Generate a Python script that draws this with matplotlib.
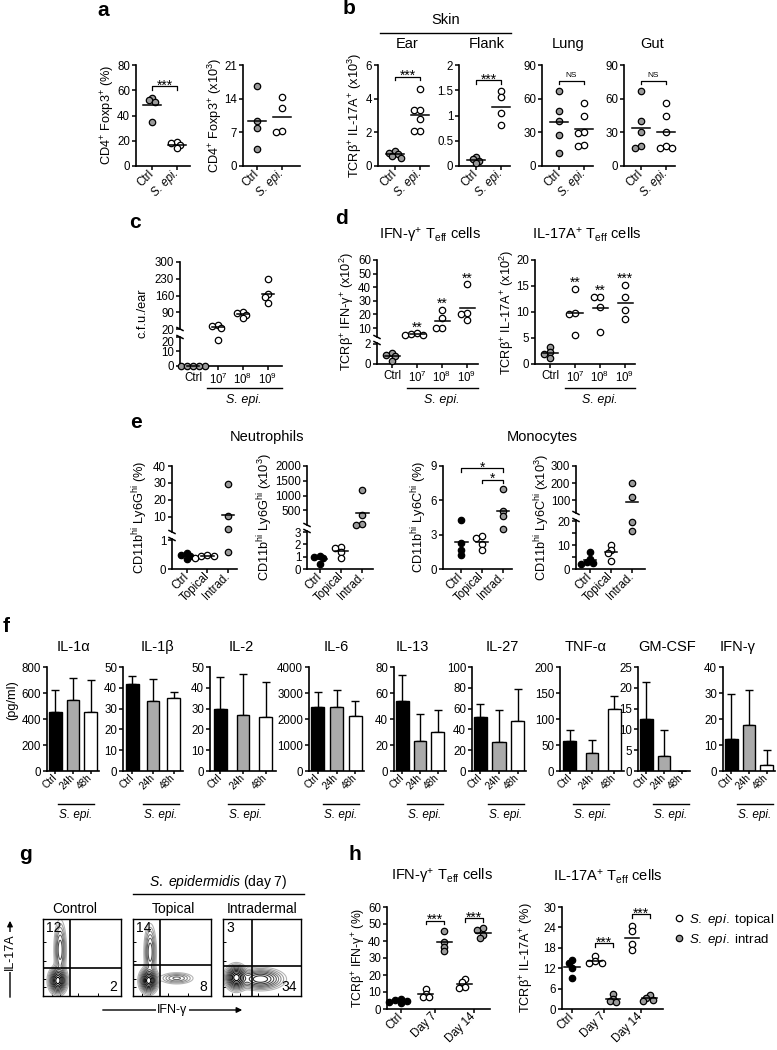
import numpy as np
import matplotlib
matplotlib.use("Agg")
import matplotlib.pyplot as plt
from matplotlib.lines import Line2D
from matplotlib.patches import FancyArrowPatch

plt.rcParams['font.family'] = ['Liberation Sans', 'DejaVu Sans']
plt.rcParams['mathtext.fontset'] = 'custom'
plt.rcParams['mathtext.rm'] = 'Liberation Sans'
plt.rcParams['mathtext.it'] = 'Liberation Sans:italic'
plt.rcParams['mathtext.bf'] = 'Liberation Sans:bold'
plt.rcParams['axes.linewidth'] = 1.2

GREY = '#9b9b9b'
BARGREY = '#aaaaaa'
TICK_FS = 8.3
TITLE_FS = 10.5
YLAB_FS = 9.2

# ---------------- data ----------------
# a
a1_ctrl = [54, 52, 51, 35]
a1_sepi = [19, 18, 17, 14]
a2_ctrl = [16.6, 9.4, 7.9, 3.5]
a2_sepi = [14.3, 12.1, 7.2, 7.0]
# b
b_sites = ['Ear', 'Flank', 'Lung', 'Gut']
b_ctrl = [[0.9, 0.8, 0.7, 0.6, 0.5],
          [0.18, 0.13, 0.1, 0.05],
          [67, 49, 40, 28, 12],
          [67, 40, 30, 18, 16]]
b_sepi = [[4.6, 3.3, 3.3, 2.8, 2.1, 2.1],
          [1.49, 1.37, 1.04, 0.81],
          [56, 45, 30, 29, 19, 18],
          [56, 45, 30, 18, 16, 16]]
b_sig = ['***', '***', 'NS', 'NS']
b_sig_y = [5.3, 1.7, 76, 76]
# c
dose_labels = ['Ctrl', '10$^{7}$', '10$^{8}$', '10$^{9}$']
c_cfu = [[0, 0, 0, 0, 0],
         [38, 31, 24, 18],
         [93, 86, 79, 65],
         [227, 165, 152, 128]]
# d
d1_ifng = [[1.1, 0.9, 0.8, 0.3],
           [6.0, 5.5, 5.0, 5.0],
           [23, 17, 10, 10],
           [42, 21, 20, 16]]
d1_sig = ['', '**', '**', '**']
d2_il17 = [[3.2, 2.4, 2.0, 1.2],
           [14.4, 9.9, 9.7, 5.6],
           [12.9, 12.8, 11.0, 6.1],
           [15.2, 12.9, 10.4, 8.6]]
d2_sig = ['', '**', '**', '***']
# e
e_labels = ['Ctrl', 'Topical', 'Intrad.']
e1_neut_pct = [[0.55, 0.5, 0.45, 0.35], [0.5, 0.47, 0.45, 0.4], [29.5, 10.5, 2.5, 0.6]]
e2_neut_num = [[1.1, 1.0, 0.9, 0.4], [1.8, 1.75, 1.35, 0.9], [1180, 330, 40, 10]]
e3_mono_pct = [[4.3, 2.3, 1.7, 1.25], [2.85, 2.7, 2.2, 1.7], [7.0, 5.1, 4.6, 3.5]]
e4_mono_num = [[7.2, 4.0, 3.0, 2.5, 2.2], [10.2, 8.0, 6.5, 3.2], [200, 119, 19.7, 15.8]]
# f
f_cytokines = ['IL-1α', 'IL-1β', 'IL-2', 'IL-6', 'IL-13', 'IL-27', 'TNF-α', 'GM-CSF', 'IFN-γ']
f_ymax = [800, 50, 50, 4000, 80, 100, 200, 25, 40]
f_ystep = [200, 10, 10, 1000, 20, 20, 50, 5, 10]
f_ctrl = [455, 42, 30, 2480, 54, 52, 58, 12.6, 12.3]
f_24h = [550, 33.5, 27, 2450, 23, 28, 35, 3.5, 17.6]
f_48h = [455, 35, 26, 2120, 30, 48, 119, 0, 2.5]
f_ctrl_err = [165, 3.5, 15, 540, 20, 12, 20, 8.9, 17.4]
f_24h_err = [165, 10.5, 19.5, 680, 21, 31, 25, 6.3, 13.7]
f_48h_err = [245, 3, 17, 560, 17, 31, 25, 0, 5.5]
f_groups = ['Ctrl', '24h', '48h']
# g
g_titles = ['Control', 'Topical', 'Intradermal']
g_il17 = [12, 14, 3]
g_ifng = [2, 8, 34]
g_blobs = [[(0.19, 0.20, 0.05, 0.075, 1.0), (0.22, 0.60, 0.035, 0.17, 0.3)],
           [(0.20, 0.20, 0.05, 0.07, 1.0), (0.22, 0.57, 0.035, 0.16, 0.3), (0.56, 0.23, 0.10, 0.035, 0.18)],
           [(0.17, 0.24, 0.06, 0.07, 1.0), (0.48, 0.22, 0.13, 0.06, 0.55)]]
g_vx = [0.34, 0.35, 0.37]
g_hy = [0.36, 0.40, 0.39]
# h
h_labels = ['Ctrl', 'Day 7', 'Day 14']
h1_ctrl = [5.8, 5.2, 4.5, 4.0, 3.5]
h1_topical = [[12, 9, 7, 7], [17.6, 16, 13, 12.2]]
h1_intrad = [[45.9, 39.6, 36.7, 34.3], [47.5, 46.5, 43.5, 41.5]]
h2_ctrl = [14.5, 13.5, 12, 9]
h2_topical = [[15.5, 14, 13.5, 13.5], [24.5, 22.9, 19.2, 17.4]]
h2_intrad = [[4.5, 3, 2.3, 2], [4, 3.3, 2.7, 2.5]]
h1_sig_y = [52, 53.5]
h2_sig_y = [19.3, 27.8]

# ---------------- helpers ----------------
W, H = 777, 1050
fig = plt.figure(figsize=(W / 100, H / 100), dpi=100)


def axpx(x0, y0, x1, y1, bottom=True):
    ax = fig.add_axes([x0 / W, 1 - y1 / H, (x1 - x0) / W, (y1 - y0) / H])
    ax.patch.set_visible(False)
    ax.spines['top'].set_visible(False)
    ax.spines['right'].set_visible(False)
    ax.tick_params(direction='out', length=3, width=1.1, labelsize=TICK_FS, pad=1.2)
    if not bottom:
        ax.spines['bottom'].set_visible(False)
        ax.tick_params(axis='x', bottom=False, labelbottom=False)
    return ax


def ftext(x, y, s, **kw):
    kw.setdefault('ha', 'center')
    kw.setdefault('va', 'center')
    fig.text(x / W, 1 - y / H, s, **kw)


def fline(xs, ys, lw=1.0, **kw):
    fig.add_artist(Line2D([x / W for x in xs], [1 - y / H for y in ys], color='k',
                          lw=lw, transform=fig.transFigure, **kw))


def brk(x, y_hi, y_lo):
    # petites marques de coupure de l'axe
    fline([x - 3, x + 3], [y_hi - 1.5, y_hi + 1.5], lw=1.1)
    fline([x - 3, x + 3], [y_lo - 1.5, y_lo + 1.5], lw=1.1)


def place(ax, xc, vals, r=3.1):
    placed, out = [], [0.0] * len(vals)
    for i in np.argsort(vals)[::-1]:
        px, py = ax.transData.transform((xc, vals[i]))
        qx = px
        for k in (0, -1, 1, -2, 2, -3, 3, -4, 4):
            qx = px + k * r * 1.0
            if all(np.hypot(qx - a, py - b) > 1.25 * r for a, b in placed):
                break
        placed.append((qx, py))
        out[i] = ax.transData.inverted().transform((qx, py))[0]
    return out


def dots(xc, vals, face, ax, ax_hi=None, cut=None, hw=0.3):
    vals = np.asarray(vals, float)
    if ax_hi is None:
        parts = [(ax, vals)]
    else:
        parts = [(ax, vals[vals <= cut]), (ax_hi, vals[vals > cut])]
    for a, v in parts:
        if len(v):
            xs = place(a, xc, v)
            a.plot(xs, v, 'o', ms=4.6, mfc=face, mec='k', mew=0.9, clip_on=False, zorder=3)
    m = vals.mean()
    a = ax if (ax_hi is None or m <= cut) else ax_hi
    a.plot([xc - hw, xc + hw], [m, m], color='k', lw=1.1, zorder=4, clip_on=False)


def bracket(ax, x0, x1, y, s, fs=10):
    lo, hi = ax.get_ylim()
    d = 0.035 * (hi - lo)
    ax.plot([x0, x0, x1, x1], [y - d, y, y, y - d], color='k', lw=0.9, clip_on=False)
    if s == 'NS':
        ax.annotate(s, ((x0 + x1) / 2, y), xytext=(0, 1), textcoords='offset points',
                    ha='center', va='bottom', fontsize=6)
    else:
        ax.annotate(s, ((x0 + x1) / 2, y), xytext=(0, -2.5), textcoords='offset points',
                    ha='center', va='baseline', fontsize=fs)


def star(ax, xc, vals, s, fs=10):
    if s:
        ax.annotate(s, (xc, max(vals)), xytext=(0, 1.5), textcoords='offset points',
                    ha='center', va='baseline', fontsize=fs)


def catlabels(ax, pos, labels, rot=True, italic=(), fs=TICK_FS):
    ax.set_xticks(pos)
    if rot:
        ax.set_xticklabels(labels, rotation=45, ha='right', va='center',
                           rotation_mode='anchor', fontsize=fs)
    else:
        ax.set_xticklabels(labels, fontsize=fs)
    for i in italic:
        ax.get_xticklabels()[i].set_fontstyle('italic')


def ylab(x, y, s, fs=YLAB_FS):
    ftext(x, y, s, rotation=90, fontsize=fs)


def letter(x, y, s):
    ftext(x, y, s, fontsize=15, fontweight='bold')


# ---------------- a ----------------
letter(103, 10, 'a')
ax = axpx(136, 65, 190, 166)
ax.set_xlim(-0.64, 1.52); ax.set_ylim(0, 80); ax.set_yticks(range(0, 81, 20))
catlabels(ax, [0, 1], ['Ctrl', 'S. epi.'], italic=[1])
dots(0, a1_ctrl, GREY, ax, hw=0.36); dots(1, a1_sepi, 'white', ax, hw=0.36)
bracket(ax, 0, 1, 63, '***')
ylab(108, 115, 'CD4$^{+}$ Foxp3$^{+}$ (%)')

ax = axpx(243, 65, 300, 166)
ax.set_xlim(-0.56, 1.72); ax.set_ylim(0, 21); ax.set_yticks([0, 7, 14, 21])
catlabels(ax, [0, 1], ['Ctrl', 'S. epi.'], italic=[1])
dots(0, a2_ctrl, GREY, ax, hw=0.36); dots(1, a2_sepi, 'white', ax, hw=0.36)
ylab(215, 115, 'CD4$^{+}$ Foxp3$^{+}$ (x10$^{3}$)')

# ---------------- b ----------------
letter(349, 9, 'b')
ftext(446, 20, 'Skin', fontsize=TITLE_FS)
fline([380, 511], [33, 33])
b_x0 = [378, 459, 542, 624]
b_title_x = [407, 487, 568, 652]
b_ylim = [6, 2, 90, 90]
b_ticks = [[0, 2, 4, 6], [0, 0.5, 1, 1.5, 2], [0, 30, 60, 90], [0, 30, 60, 90]]
b_ticklab = [None, ['0', '0.5', '1', '1.5', '2'], None, None]
for i in range(4):
    ax = axpx(b_x0[i], 65, b_x0[i] + 51, 166)
    ax.set_xlim(-0.68, 1.36); ax.set_ylim(0, b_ylim[i]); ax.set_yticks(b_ticks[i])
    if b_ticklab[i]:
        ax.set_yticklabels(b_ticklab[i])
    catlabels(ax, [0, 1], ['Ctrl', 'S. epi.'], italic=[1])
    dots(0, b_ctrl[i], GREY, ax, hw=0.36); dots(1, b_sepi[i], 'white', ax, hw=0.36)
    bracket(ax, 0, 1, b_sig_y[i], b_sig[i])
    ftext(b_title_x[i], 44, b_sites[i], fontsize=TITLE_FS)
ylab(355, 115, 'TCRβ$^{+}$ IL-17A$^{+}$ (x10$^{3}$)')

# ---------------- c ----------------
letter(135, 223, 'c')
c_hi = axpx(180, 262, 282, 329, bottom=False)
c_lo = axpx(180, 337, 282, 366)
for a in (c_hi, c_lo):
    a.set_xlim(-0.52, 3.56)
c_hi.set_ylim(20, 300); c_hi.set_yticks([20, 90, 160, 230, 300])
c_lo.set_ylim(0, 20); c_lo.set_yticks([0, 10, 20])
# le "20" du bas descend un peu pour ne pas chevaucher celui du haut
c_lo.get_yticklabels()[-1].set_va('top')
catlabels(c_lo, range(4), dose_labels, rot=False)
for i in range(4):
    dots(i, c_cfu[i], GREY if i == 0 else 'white', c_lo, c_hi, 20, hw=0.25)
brk(180, 329, 337)
c_lo.plot([0.55, 3.56], [-0.75, -0.75], color='k', lw=1.0,
          transform=c_lo.get_xaxis_transform(), clip_on=False)
ftext(244, 400, 'S. epi.', fontsize=9, fontstyle='italic')
ylab(143, 313, 'c.f.u./ear')

# ---------------- d ----------------
letter(341, 218, 'd')
ftext(430, 235, 'IFN-γ$^{+}$ T$_{\\mathrm{eff}}$ cells', fontsize=TITLE_FS)
ftext(587, 235, 'IL-17A$^{+}$ T$_{\\mathrm{eff}}$ cells', fontsize=TITLE_FS)
d_hi = axpx(377, 260, 478, 337, bottom=False)
d_lo = axpx(377, 343, 478, 364)
for a in (d_hi, d_lo):
    a.set_xlim(-0.6, 3.44)
d_hi.set_ylim(3.4, 60); d_hi.set_yticks(range(10, 61, 10))
d_lo.set_ylim(0, 2.1); d_lo.set_yticks([0, 2])
catlabels(d_lo, range(4), dose_labels, rot=False)
for i in range(4):
    dots(i, d1_ifng[i], GREY if i == 0 else 'white', d_lo, d_hi, 2.1, hw=0.3)
    star(d_hi, i, d1_ifng[i], d1_sig[i])
brk(377, 337, 343)
d_lo.plot([0.6, 3.44], [-1.15, -1.15], color='k', lw=1.0,
          transform=d_lo.get_xaxis_transform(), clip_on=False)
ftext(442, 400, 'S. epi.', fontsize=9, fontstyle='italic')
ylab(347, 312, 'TCRβ$^{+}$ IFN-γ$^{+}$ (x10$^{2}$)')

ax = axpx(535, 260, 635, 364)
ax.set_xlim(-0.6, 3.4); ax.set_ylim(0, 20); ax.set_yticks(range(0, 21, 5))
catlabels(ax, range(4), dose_labels, rot=False)
for i in range(4):
    dots(i, d2_il17[i], GREY if i == 0 else 'white', ax, hw=0.3)
    star(ax, i, d2_il17[i], d2_sig[i])
ax.plot([0.6, 3.4], [-0.23, -0.23], color='k', lw=1.0,
        transform=ax.get_xaxis_transform(), clip_on=False)
ftext(600, 400, 'S. epi.', fontsize=9, fontstyle='italic')
ylab(507, 312, 'TCRβ$^{+}$ IL-17A$^{+}$ (x10$^{2}$)')

# ---------------- e ----------------
letter(136, 422, 'e')
ftext(267, 437, 'Neutrophils', fontsize=TITLE_FS)
ftext(542, 437, 'Monocytes', fontsize=TITLE_FS)
e_faces = ['black', 'white', GREY]


def broken_e(x0, x1, yb_hi, yt_lo, lim_hi, lim_lo, t_hi, t_lo, xl, data, cut, tl_lo=None):
    hi = axpx(x0, 466, x1, yb_hi, bottom=False)
    lo = axpx(x0, yt_lo, x1, 569)
    for a in (hi, lo):
        a.set_xlim(*xl)
    hi.set_ylim(*lim_hi); hi.set_yticks(t_hi)
    lo.set_ylim(*lim_lo); lo.set_yticks(t_lo)
    if tl_lo:
        lo.set_yticklabels(tl_lo)
    catlabels(lo, range(3), e_labels)
    for i in range(3):
        dots(i, data[i], e_faces[i], lo, hi, cut, hw=0.3)
    brk(x0, yb_hi, yt_lo)
    return hi, lo


broken_e(172, 237, 532, 539, (1, 40), (0, 1.05), [10, 20, 30, 40], [0, 1],
         (-0.73, 2.44), e1_neut_pct, 1.05)
ylab(140, 517, 'CD11b$^{\\mathrm{hi}}$ Ly6G$^{\\mathrm{hi}}$ (%)')
broken_e(307, 373, 525, 531, (0, 2000), (0, 3.1), [500, 1000, 1500, 2000], [0, 1, 2, 3],
         (-0.63, 2.5), e2_neut_num, 3.1)
ylab(265, 517, 'CD11b$^{\\mathrm{hi}}$ Ly6G$^{\\mathrm{hi}}$ (x10$^{3}$)')

ax = axpx(443, 466, 512, 569)
ax.set_xlim(-0.88, 2.43); ax.set_ylim(0, 9); ax.set_yticks([0, 3, 6, 9])
catlabels(ax, range(3), e_labels)
for i in range(3):
    dots(i, e3_mono_pct[i], e_faces[i], ax)
bracket(ax, 0, 2, 8.8, '*')
bracket(ax, 1, 2, 7.8, '*')
ylab(419, 517, 'CD11b$^{\\mathrm{hi}}$ Ly6C$^{\\mathrm{hi}}$ (%)')

broken_e(576, 645, 513, 520, (25, 300), (0, 20.5), [100, 200, 300], [0, 5, 10, 15, 20],
         (-0.67, 2.62), e4_mono_num, 20.5, tl_lo=['0', '', '10', '', '20'])
ylab(542, 517, 'CD11b$^{\\mathrm{hi}}$ Ly6C$^{\\mathrm{hi}}$ (x10$^{3}$)')

# ---------------- f ----------------
letter(6, 626, 'f')
f_x0 = [47, 123, 210, 309, 394, 472, 560, 638, 723]
f_w = [52, 60, 66, 55, 52, 54, 64, 52, 52]
f_ul = [58, 143, 228, 323, 407, 488, 573, 653, 737]
f_title_x = [73, 158, 241, 336, 412, 502, 586, 667, 738]
bar_cols = ['black', BARGREY, 'white']
for i, name in enumerate(f_cytokines):
    ax = axpx(f_x0[i], 667, f_x0[i] + f_w[i], 771)
    ax.set_xlim(-0.45, 2.45); ax.set_ylim(0, f_ymax[i])
    ax.set_yticks(np.arange(0, f_ymax[i] + 0.1, f_ystep[i]))
    means = [f_ctrl[i], f_24h[i], f_48h[i]]
    errs = [f_ctrl_err[i], f_24h_err[i], f_48h_err[i]]
    ax.bar(range(3), means, width=0.72 * 52 / f_w[i] if f_w[i] > 56 else 0.72,
           color=bar_cols, edgecolor='k', lw=1.0, zorder=2)
    ax.errorbar(range(3), means, yerr=[[0, 0, 0], errs], fmt='none', ecolor='k',
                elinewidth=1.0, capsize=3, capthick=1.0, zorder=1)
    catlabels(ax, range(3), f_groups, fs=7.2)
    ax.tick_params(axis='x', length=2.5)
    fline([f_ul[i], f_ul[i] + 36], [804, 804])
    ftext(f_ul[i] + 18, 815, 'S. epi.', fontsize=8.5, fontstyle='italic')
    ftext(f_title_x[i], 647, name, fontsize=TITLE_FS)
ylab(12, 700, '(pg/ml)')

# ---------------- g ----------------
letter(25, 855, 'g')
ftext(218, 882, '$\\mathit{S.\\ epidermidis}$ (day 7)', fontsize=10)
fline([133, 304], [894, 894])
g_x0 = [43, 133, 223]
g_tx = [75, 173, 262]
gx, gy = np.meshgrid(np.linspace(0, 1, 240), np.linspace(0, 1, 240))
lev = [0.02, 0.04, 0.07, 0.11, 0.16, 0.23, 0.32, 0.43, 0.56, 0.72, 0.88]
lcol = ['#b5b5b5', '#a0a0a0', '#8c8c8c', '#787878', '#646464', '#505050',
        '#3e3e3e', '#2c2c2c', '#1c1c1c', '#0e0e0e', '#000000']
for i in range(3):
    ax = fig.add_axes([g_x0[i] / W, 1 - 996 / H, 78 / W, 77 / H])
    ax.set_xlim(0, 1); ax.set_ylim(0, 1)
    ax.set_xticks([0.12, 0.22, 0.45, 0.7]); ax.set_yticks([0.12, 0.22, 0.45, 0.7])
    ax.tick_params(direction='in', length=2, width=0.7, labelbottom=False, labelleft=False)
    for s in ax.spines.values():
        s.set_linewidth(1.0)
    z = np.zeros_like(gx)
    for cx, cy, sx, sy, w in g_blobs[i]:
        z += w * np.exp(-((gx - cx) ** 2 / (2 * sx ** 2) + (gy - cy) ** 2 / (2 * sy ** 2)))
    ax.contour(gx, gy, z, levels=lev, colors=lcol, linewidths=0.8)
    ax.axvline(g_vx[i], color='k', lw=1.2)
    ax.axhline(g_hy[i], color='k', lw=1.2)
    ax.text(0.04, 0.97, str(g_il17[i]), transform=ax.transAxes, ha='left', va='top', fontsize=10)
    ax.text(0.95, 0.03, str(g_ifng[i]), transform=ax.transAxes, ha='right', va='bottom', fontsize=10)
    ftext(g_tx[i], 909, g_titles[i], fontsize=10)
fig.add_artist(FancyArrowPatch((10 / W, 1 - 1000 / H), (10 / W, 1 - 918 / H),
               transform=fig.transFigure, arrowstyle='-|>', mutation_scale=8, lw=1.0, color='k'))
ftext(10, 952, 'IL-17A', rotation=90, fontsize=9,
      bbox=dict(facecolor='white', edgecolor='none', pad=1))
fig.add_artist(FancyArrowPatch((100 / W, 1 - 1010 / H), (245 / W, 1 - 1010 / H),
               transform=fig.transFigure, arrowstyle='-|>', mutation_scale=8, lw=1.0, color='k'))
ftext(172, 1010, 'IFN-γ', fontsize=9, bbox=dict(facecolor='white', edgecolor='none', pad=1))

# ---------------- h ----------------
letter(355, 855, 'h')
ftext(442, 877, 'IFN-γ$^{+}$ T$_{\\mathrm{eff}}$ cells', fontsize=TITLE_FS)
ftext(608, 877, 'IL-17A$^{+}$ T$_{\\mathrm{eff}}$ cells', fontsize=TITLE_FS)
h_pos = [0, 1, 2.15]
off = 0.27

ax = axpx(387, 907, 490, 1009)
ax.set_xlim(-0.41, 2.62); ax.set_ylim(0, 60); ax.set_yticks(range(0, 61, 10))
catlabels(ax, h_pos, h_labels)
dots(0, h1_ctrl, 'black', ax, hw=0.25)
for j in range(2):
    dots(h_pos[j + 1] - off, h1_topical[j], 'white', ax, hw=0.22)
    dots(h_pos[j + 1] + off, h1_intrad[j], GREY, ax, hw=0.22)
    bracket(ax, h_pos[j + 1] - off, h_pos[j + 1] + off, h1_sig_y[j], '***')
ylab(359, 958, 'TCRβ$^{+}$ IFN-γ$^{+}$ (%)', fs=8.8)

ax = axpx(562, 907, 663, 1009)
ax.set_xlim(-0.31, 2.84); ax.set_ylim(0, 30); ax.set_yticks(range(0, 31, 6))
catlabels(ax, h_pos, h_labels)
dots(0, h2_ctrl, 'black', ax, hw=0.25)
for j in range(2):
    dots(h_pos[j + 1] - off, h2_topical[j], 'white', ax, hw=0.22)
    dots(h_pos[j + 1] + off, h2_intrad[j], GREY, ax, hw=0.22)
    bracket(ax, h_pos[j + 1] - off, h_pos[j + 1] + off, h2_sig_y[j], '***')
ylab(527, 958, 'TCRβ$^{+}$ IL-17A$^{+}$ (%)')

hd = [Line2D([], [], ls='none', marker='o', ms=4.6, mfc='white', mec='k', mew=0.9),
      Line2D([], [], ls='none', marker='o', ms=4.6, mfc=GREY, mec='k', mew=0.9)]
fig.legend(hd, ['$\\mathit{S.\\ epi.}$ topical', '$\\mathit{S.\\ epi.}$ intrad'],
           loc='upper left', bbox_to_anchor=(674 / W, 1 - 912 / H), frameon=False,
           fontsize=9.5, handlelength=0.8, handletextpad=0.3, labelspacing=0.3,
           borderpad=0, borderaxespad=0)

fig.savefig('out.png', dpi=100)
